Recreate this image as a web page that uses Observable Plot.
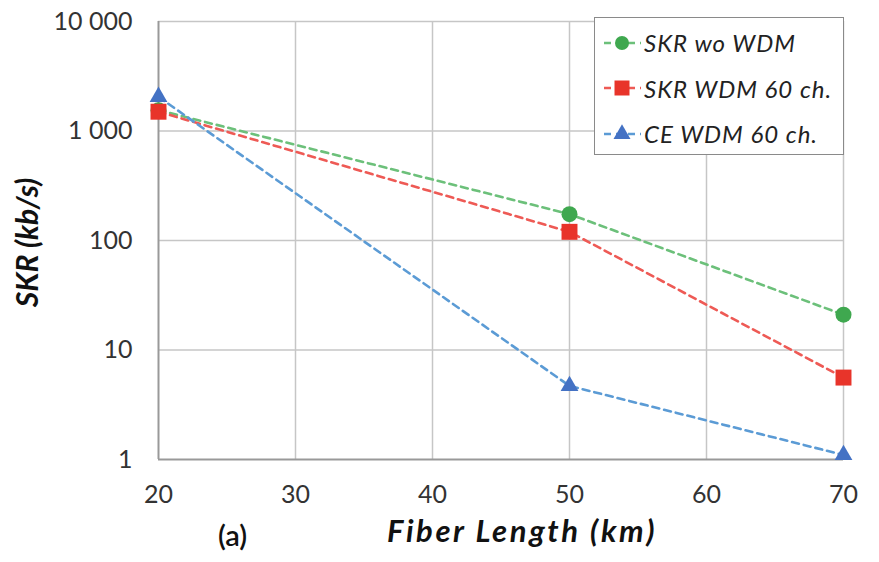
<!DOCTYPE html>
<html>
<head>
<meta charset="utf-8">
<script src="https://cdn.jsdelivr.net/npm/d3@7"></script>
<script src="https://cdn.jsdelivr.net/npm/@observablehq/plot@0.6"></script>
<style>
  body { margin: 0; background: #fff; }
  #chart { position: relative; width: 879px; height: 562px; font-family: Lato, "Open Sans", sans-serif; }
  #chart svg.plot { display: block; }
  .legend {
    position: absolute; left: 594px; top: 17px; width: 250px; height: 138px;
    box-sizing: border-box; border: 1.5px solid #8a8a8a; background: #fff;
    padding: 2px 0 0 6px;
  }
  .legend .row { display: flex; align-items: center; height: 45.5px; }
  .legend .row svg { width: 42px; height: 24px; flex: none; }
  .legend .row span { font-style: italic; font-size: 24px; letter-spacing: 1px; color: #222; margin-left: 1px; white-space: nowrap; }
</style>
</head>
<body>
<div id="chart"></div>
<script>
// Fiber length (km) at each measurement
const lengths = [20, 50, 70];
// Secret key rate / coexistence values (kb/s)
const skrWoWdm = [1550, 174, 21];
const skrWdm60 = [1500, 120, 5.6];
const ceWdm60 = [2050, 4.7, 1.1];

const seriesNames = ["SKR wo WDM", "SKR WDM 60 ch.", "CE WDM 60 ch."];
const seriesValues = [skrWoWdm, skrWdm60, ceWdm60];

const xTicks = [20, 30, 40, 50, 60, 70];
const yTicks = [1, 10, 100, 1000, 10000];
const yTickLabels = ["1", "10", "100", "1 000", "10 000"];

const style = {
  "SKR wo WDM": {line: "#6cc07a", fill: "#3fa84f", symbol: "circle", r: 8},
  "SKR WDM 60 ch.": {line: "#ee5a55", fill: "#e8342a", symbol: "square", r: 9},
  "CE WDM 60 ch.": {line: "#5b9bd5", fill: "#4472c4", symbol: "triangle", r: 6.6}
};

const rows = seriesNames.flatMap((name, i) =>
  lengths.map((len, j) => ({series: name, length: len, value: seriesValues[i][j]}))
);

const font = "Lato, 'Open Sans', sans-serif";
const marks = [
  Plot.ruleX(xTicks.slice(1), {stroke: "#c6c6c6", strokeWidth: 1.5}),
  Plot.ruleY(yTicks.slice(1), {stroke: "#c6c6c6", strokeWidth: 1.5}),
  Plot.ruleX([20], {stroke: "#999", strokeWidth: 2}),
  Plot.ruleY([1], {stroke: "#999", strokeWidth: 2})
];
for (const name of seriesNames) {
  marks.push(Plot.line(rows.filter(d => d.series === name), {
    x: "length", y: "value", stroke: style[name].line, strokeWidth: 2.6, strokeDasharray: "7,5"
  }));
}
for (const name of ["SKR wo WDM", "CE WDM 60 ch.", "SKR WDM 60 ch."]) {
  marks.push(Plot.dot(rows.filter(d => d.series === name), {
    x: "length", y: "value", symbol: style[name].symbol, r: style[name].r,
    fill: style[name].fill, stroke: "none"
  }));
}
marks.push(
  Plot.axisX(xTicks, {tickSize: 0, tickPadding: 26, fontSize: 25, fill: "#333", label: null}),
  Plot.axisY(yTicks, {tickSize: 0, tickPadding: 26, fontSize: 25, fill: "#333", label: null,
    tickFormat: v => yTickLabels[yTicks.indexOf(v)]}),
  Plot.text(["Fiber Length (km)"], {frameAnchor: "bottom", textAnchor: "middle", dx: 21, dy: 82,
    fontSize: 31, fontWeight: "bold", fontStyle: "italic", fill: "#111"}),
  Plot.text(["(a)"], {frameAnchor: "bottom-left", textAnchor: "middle", dx: 74, dy: 86,
    fontSize: 29, fontWeight: 600, fill: "#111"}),
  Plot.text(["SKR (kb/s)"], {frameAnchor: "left", textAnchor: "middle", dx: -130, dy: 2, rotate: -90,
    fontSize: 30, fontWeight: "bold", fontStyle: "italic", fill: "#111"})
);

const chart = Plot.plot({
  width: 879,
  height: 562,
  marginLeft: 158,
  marginRight: 36,
  marginTop: 21,
  marginBottom: 103,
  style: {fontFamily: font, background: "#fff", overflow: "visible"},
  x: {domain: [20, 70], axis: null},
  y: {type: "log", domain: [1, 10000], axis: null},
  marks
});
chart.classList.add("plot");
// widen the x-axis title a little
d3.select(chart).selectAll("text")
  .filter(function() { return this.textContent === "Fiber Length (km)"; })
  .attr("letter-spacing", 2.6);
const root = document.getElementById("chart");
root.appendChild(chart);

// Legend box in the upper right corner of the plot frame
const legend = document.createElement("div");
legend.className = "legend";
const symbolPath = {
  circle: d3.symbol(d3.symbolCircle, Math.PI * 7 * 7)(),
  square: d3.symbol(d3.symbolSquare, 15 * 15)(),
  triangle: d3.symbol(d3.symbolTriangle, Math.PI * 6.3 * 6.3)()
};
for (const name of seriesNames) {
  const s = style[name];
  const row = document.createElement("div");
  row.className = "row";
  row.innerHTML =
    `<svg viewBox="0 0 42 24"><line x1="2" x2="40" y1="12" y2="12" stroke="${s.line}" stroke-width="2.6" stroke-dasharray="7,5" stroke-dashoffset="-1"/>` +
    `<path transform="translate(21,12)" d="${symbolPath[s.symbol]}" fill="${s.fill}"/></svg>` +
    `<span>${name}</span>`;
  legend.appendChild(row);
}
root.appendChild(legend);
</script>
</body>
</html>
